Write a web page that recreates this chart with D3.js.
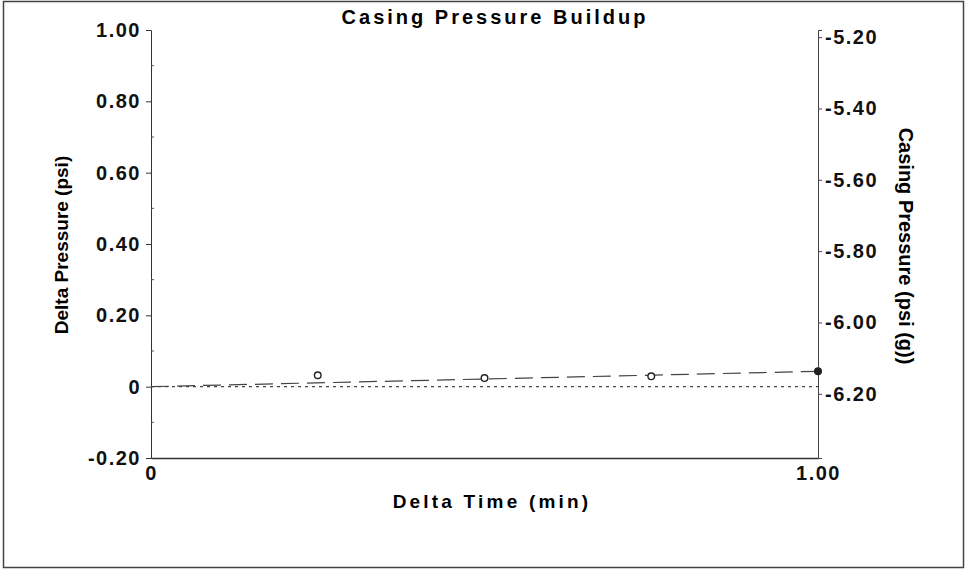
<!DOCTYPE html>
<html>
<head>
<meta charset="utf-8">
<script src="https://cdn.jsdelivr.net/npm/d3@7"></script>
<style>
  body { margin: 0; background: #fff; }
  svg { display: block; }
  .tick-lbl { font-family: Arial, "Liberation Sans", sans-serif; font-weight: bold; font-size: 20px; letter-spacing: 1.5px; fill: #111; }
</style>
</head>
<body>
<div id="chart"></div>
<script>
// data
const pointTime = [0.25, 0.50, 0.75, 1.00];
const pointDelta = [0.032, 0.024, 0.029, 0.043];
const fitTime = [0, 1.00];
const fitDelta = [0, 0.043];
const baseTime = [0, 1.00];
const baseDelta = [0, 0];
const leftTicks = [-0.20, 0, 0.20, 0.40, 0.60, 0.80, 1.00];
const leftMinor = [-0.10, 0.10, 0.30, 0.50, 0.70, 0.90];
const rightTicks = [-6.20, -6.00, -5.80, -5.60, -5.40, -5.20];
const xTicks = [0, 1.00];
const casingOffset = -6.18; // casing pressure at delta = 0

const width = 970, height = 572;
const margin = { top: 30, right: 152, bottom: 114, left: 151 };
const w = width - margin.left - margin.right;
const h = height - margin.top - margin.bottom;

// plain hyphen instead of d3's unicode minus
const fmt = d => d === 0 ? '0' : d3.format('.2f')(d).replace('\u2212', '-');

const svg = d3.select('#chart').append('svg')
  .attr('width', width)
  .attr('height', height);

// scanned page frame
svg.append('rect')
  .attr('x', 3.5).attr('y', 1.5)
  .attr('width', 960).attr('height', 566)
  .attr('fill', 'none')
  .attr('stroke', '#444')
  .attr('stroke-width', 1.5);

const g = svg.append('g')
  .attr('transform', 'translate(' + margin.left + ',' + margin.top + ')');

const x = d3.scaleLinear().domain([0, 1]).range([0, w]);
const y = d3.scaleLinear().domain([-0.2, 1.0]).range([h, 0]);
const y2 = d3.scaleLinear().domain([-0.2 + casingOffset, 1.0 + casingOffset]).range([h, 0]);

// left axis
const leftAxis = g.append('g').attr('class', 'yaxis')
  .call(d3.axisLeft(y).tickValues(leftTicks).tickSize(5).tickPadding(5).tickFormat(fmt));
leftAxis.selectAll('text').attr('class', 'tick-lbl').attr('font-size', null).attr('font-family', null);
leftAxis.select('.domain').attr('stroke', '#333');
leftAxis.selectAll('.tick line').attr('stroke', '#333');
g.append('g').selectAll('line')
  .data(leftMinor)
  .join('line')
  .attr('x1', 0).attr('x2', 3)
  .attr('y1', d => y(d)).attr('y2', d => y(d))
  .attr('stroke', '#555');

// right axis
const rightAxis = g.append('g').attr('transform', 'translate(' + w + ',0)')
  .call(d3.axisRight(y2).tickValues(rightTicks).tickSize(4).tickPadding(3).tickFormat(fmt));
rightAxis.selectAll('text').attr('class', 'tick-lbl').attr('font-size', null).attr('font-family', null);
rightAxis.select('.domain').attr('stroke', '#444');
rightAxis.selectAll('.tick line').attr('stroke', '#444');

// bottom axis
const bottomAxis = g.append('g').attr('transform', 'translate(0,' + h + ')')
  .call(d3.axisBottom(x).tickValues(xTicks).tickSize(0).tickPadding(8).tickFormat(fmt));
bottomAxis.selectAll('text').attr('class', 'tick-lbl').attr('font-size', null).attr('font-family', null);
bottomAxis.select('.domain').attr('stroke', '#333').attr('stroke-width', 1.5);

const line = d3.line()
  .x(d => x(d[0]))
  .y(d => y(d[1]));

// zero reference line (short dashes)
g.append('path')
  .datum(baseTime.map((t, i) => [t, baseDelta[i]]))
  .attr('d', line)
  .attr('fill', 'none')
  .attr('stroke', '#444')
  .attr('stroke-width', 1.2)
  .attr('stroke-dasharray', '3,4');

// fitted trend (long dashes)
g.append('path')
  .datum(fitTime.map((t, i) => [t, fitDelta[i]]))
  .attr('d', line)
  .attr('fill', 'none')
  .attr('stroke', '#444')
  .attr('stroke-width', 1.2)
  .attr('stroke-dasharray', '18,8');

// measured points
g.selectAll('circle')
  .data(pointTime.map((t, i) => [t, pointDelta[i]]))
  .join('circle')
  .attr('cx', d => x(d[0]))
  .attr('cy', d => y(d[1]))
  .attr('r', 3.3)
  .attr('fill', (d, i) => i === pointTime.length - 1 ? '#222' : '#fff')
  .attr('stroke', '#222')
  .attr('stroke-width', 1.4);

// titles
svg.append('text')
  .attr('x', 495).attr('y', 24)
  .attr('text-anchor', 'middle')
  .style('font-family', 'Arial, "Liberation Sans", sans-serif')
  .style('font-weight', 'bold')
  .style('font-size', '20px')
  .style('letter-spacing', '3px')
  .text('Casing Pressure Buildup');

svg.append('text')
  .attr('x', 492).attr('y', 508)
  .attr('text-anchor', 'middle')
  .style('font-family', 'Arial, "Liberation Sans", sans-serif')
  .style('font-weight', 'bold')
  .style('font-size', '19px')
  .style('letter-spacing', '3.2px')
  .text('Delta Time (min)');

svg.append('text')
  .attr('transform', 'translate(68,245) rotate(-90)')
  .attr('text-anchor', 'middle')
  .style('font-family', '"Liberation Sans Narrow", "Arial Narrow", Arial, sans-serif')
  .style('font-weight', 'bold')
  .style('font-size', '19px')
  .text('Delta Pressure (psi)');

svg.append('text')
  .attr('transform', 'translate(899,246) rotate(90)')
  .attr('text-anchor', 'middle')
  .style('font-family', '"Liberation Sans Narrow", "Arial Narrow", Arial, sans-serif')
  .style('font-weight', 'bold')
  .style('font-size', '20px')
  .text('Casing Pressure (psi (g))');
</script>
</body>
</html>
